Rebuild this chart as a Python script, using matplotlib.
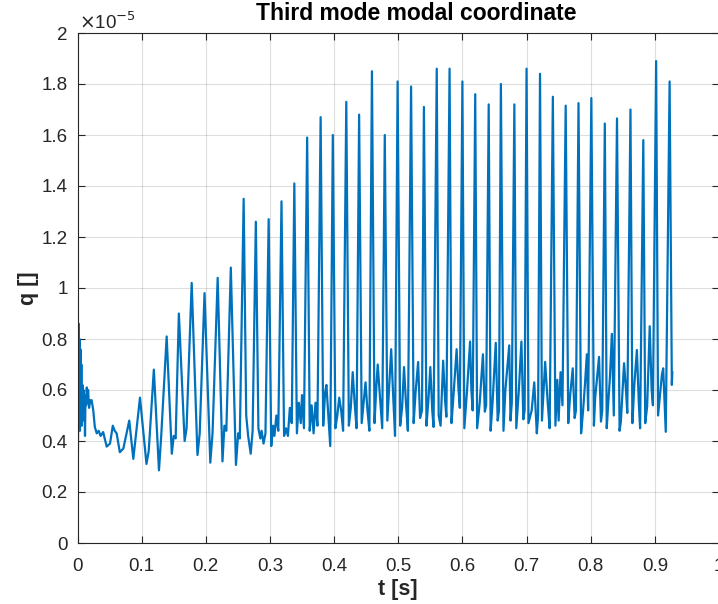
import matplotlib
matplotlib.use("Agg")
import matplotlib.pyplot as plt
import numpy as np
from matplotlib.ticker import FuncFormatter

plt.rcParams['font.family'] = ['Liberation Sans', 'DejaVu Sans']

# modal coordinate q, in units of 1e-5
q_scale_exp = -5

# start-up transient
t_transient = [0.0, 0.0004, 0.0012, 0.0018, 0.0025, 0.0032, 0.0038, 0.0045, 0.0052,
               0.0060, 0.0068, 0.0076, 0.0084, 0.0092, 0.0100, 0.0108, 0.0117, 0.0125,
               0.0135, 0.0145, 0.0155, 0.0165, 0.0180, 0.0200, 0.0220, 0.0246, 0.0270,
               0.0300, 0.0330, 0.0360, 0.0400, 0.0455, 0.0507, 0.0550, 0.0580, 0.0610,
               0.0660, 0.0714, 0.0807, 0.0870]
q_transient = [0.0, 0.26, 0.55, 0.86, 0.47, 0.80, 0.44, 0.76, 0.50,
               0.70, 0.46, 0.62, 0.48, 0.60, 0.50, 0.58, 0.42, 0.58,
               0.54, 0.61, 0.55, 0.60, 0.53, 0.56, 0.56, 0.52, 0.455,
               0.43, 0.44, 0.42, 0.435, 0.378, 0.39, 0.46, 0.44, 0.43,
               0.356, 0.37, 0.48, 0.33]

# growing oscillation
t_growth = [0.0974, 0.1075, 0.1110, 0.1190, 0.1270, 0.1305, 0.1390, 0.1470, 0.1500,
            0.1530, 0.1580, 0.1670, 0.1700, 0.1780, 0.1870, 0.1905, 0.1980, 0.2070,
            0.2105, 0.2185, 0.2260, 0.2290, 0.2320, 0.2390, 0.2470, 0.2505, 0.2530]
q_growth = [0.57, 0.31, 0.36, 0.68, 0.285, 0.42, 0.81, 0.35, 0.42,
            0.41, 0.90, 0.40, 0.45, 1.02, 0.345, 0.43, 0.98, 0.315,
            0.43, 1.04, 0.32, 0.46, 0.44, 1.08, 0.306, 0.43, 0.41]

# spikes building up to the limit cycle
t_rise = [0.259, 0.263, 0.266, 0.270, 0.273,
          0.278, 0.282, 0.285, 0.287, 0.290, 0.293,
          0.298, 0.302, 0.305, 0.307, 0.310, 0.313,
          0.318, 0.322, 0.325, 0.328, 0.331, 0.334,
          0.338, 0.342, 0.345, 0.348, 0.350, 0.353,
          0.358, 0.362, 0.365, 0.368, 0.371, 0.374,
          0.379, 0.383, 0.386, 0.388, 0.391, 0.394,
          0.398, 0.402, 0.405, 0.408, 0.411, 0.414,
          0.419, 0.423, 0.426, 0.429, 0.432, 0.435,
          0.439, 0.443, 0.446, 0.449, 0.452, 0.455,
          0.459, 0.463, 0.466, 0.468, 0.471, 0.475,
          0.479, 0.483, 0.486, 0.489, 0.492, 0.495]
q_rise = [1.35, 0.50, 0.42, 0.35, 0.44,
          1.26, 0.45, 0.41, 0.44, 0.39, 0.43,
          1.27, 0.38, 0.46, 0.42, 0.50, 0.44,
          1.34, 0.42, 0.45, 0.42, 0.53, 0.47,
          1.41, 0.43, 0.55, 0.47, 0.58, 0.45,
          1.59, 0.44, 0.54, 0.43, 0.55, 0.46,
          1.67, 0.46, 0.59, 0.62, 0.50, 0.38,
          1.60, 0.45, 0.50, 0.57, 0.52, 0.44,
          1.73, 0.46, 0.53, 0.67, 0.55, 0.45,
          1.68, 0.47, 0.55, 0.63, 0.52, 0.44,
          1.85, 0.47, 0.62, 0.70, 0.59, 0.45,
          1.60, 0.48, 0.62, 0.76, 0.58, 0.42]

# saturated limit cycle
t_sat = [0.499, 0.503, 0.506, 0.509, 0.512, 0.515,
         0.520, 0.524, 0.527, 0.531, 0.534, 0.537,
         0.540, 0.544, 0.547, 0.550, 0.553, 0.555,
         0.560, 0.563, 0.566, 0.570, 0.573, 0.575,
         0.580, 0.583, 0.586, 0.591, 0.594, 0.596,
         0.600, 0.603, 0.607, 0.612, 0.614, 0.616,
         0.620, 0.623, 0.627, 0.632, 0.635, 0.637,
         0.641, 0.644, 0.647, 0.652, 0.655, 0.657,
         0.660, 0.664, 0.667, 0.673, 0.675, 0.677,
         0.681, 0.684, 0.688, 0.692, 0.695, 0.697,
         0.700, 0.703, 0.708, 0.712, 0.716, 0.718,
         0.721, 0.724, 0.727, 0.729, 0.733, 0.736,
         0.741, 0.745, 0.748, 0.750, 0.753, 0.756,
         0.761, 0.765, 0.768, 0.772, 0.775, 0.777,
         0.781, 0.785, 0.788, 0.791, 0.794, 0.796,
         0.801, 0.805, 0.807, 0.813, 0.816, 0.818,
         0.822, 0.825, 0.827, 0.830, 0.833, 0.836,
         0.841, 0.845, 0.847, 0.852, 0.855, 0.857,
         0.862, 0.865, 0.868, 0.872, 0.875, 0.877,
         0.882, 0.885, 0.888, 0.892, 0.895, 0.897,
         0.902, 0.905, 0.908, 0.911, 0.913, 0.917,
         0.923, 0.9265, 0.9272]
q_sat = [1.81, 0.46, 0.53, 0.69, 0.55, 0.44,
         1.79, 0.47, 0.59, 0.71, 0.49, 0.52,
         1.71, 0.46, 0.56, 0.69, 0.52, 0.455,
         1.86, 0.50, 0.46, 0.715, 0.56, 0.495,
         1.86, 0.47, 0.575, 0.76, 0.60, 0.53,
         1.81, 0.45, 0.59, 0.79, 0.60, 0.52,
         1.76, 0.45, 0.55, 0.74, 0.515, 0.54,
         1.72, 0.44, 0.55, 0.785, 0.48, 0.52,
         1.80, 0.44, 0.60, 0.775, 0.48, 0.55,
         1.72, 0.45, 0.60, 0.79, 0.485, 0.52,
         1.86, 0.47, 0.52, 0.63, 0.43, 0.50,
         1.84, 0.48, 0.62, 0.71, 0.55, 0.45,
         1.75, 0.46, 0.64, 0.48, 0.67, 0.54,
         1.715, 0.47, 0.58, 0.685, 0.49, 0.52,
         1.725, 0.43, 0.515, 0.62, 0.74, 0.52,
         1.745, 0.46, 0.57, 0.73, 0.476, 0.52,
         1.645, 0.45, 0.535, 0.65, 0.82, 0.50,
         1.665, 0.44, 0.476, 0.705, 0.60, 0.51,
         1.70, 0.47, 0.62, 0.757, 0.55, 0.45,
         1.58, 0.47, 0.535, 0.85, 0.60, 0.54,
         1.89, 0.50, 0.58, 0.66, 0.685, 0.436,
         1.81, 0.62, 0.67]

t = np.concatenate([t_transient, t_growth, t_rise, t_sat])
q = np.concatenate([q_transient, q_growth, q_rise, q_sat])

x_ticks = [0, 0.1, 0.2, 0.3, 0.4, 0.5, 0.6, 0.7, 0.8, 0.9, 1.0]
y_ticks = [0, 0.2, 0.4, 0.6, 0.8, 1.0, 1.2, 1.4, 1.6, 1.8, 2.0]

dark = '#262626'

fig = plt.figure(figsize=(7.18, 6.04), dpi=100)
ax = fig.add_axes([77.5 / 718, 61 / 604, 641.5 / 718, 510 / 604])

ax.plot(t, q, color='#0072BD', lw=1.6, solid_joinstyle='round')

ax.set_xlim(0, 1)
ax.set_ylim(0, 2)
ax.set_xticks(x_ticks)
ax.set_yticks(y_ticks)
fmt = FuncFormatter(lambda v, _: f"{v:g}")
ax.xaxis.set_major_formatter(fmt)
ax.yaxis.set_major_formatter(fmt)

ax.grid(True, color=dark, alpha=0.15, lw=0.8)
ax.set_axisbelow(True)
ax.tick_params(direction='in', top=True, right=True, length=5, width=0.8,
               colors=dark, labelsize=13.5)
ax.tick_params(axis='x', pad=11)
ax.tick_params(axis='y', pad=7)
for s in ax.spines.values():
    s.set_color(dark)
    s.set_linewidth(0.8)

fig.text(416.5 / 718, 1 - 13 / 604, 'Third mode modal coordinate', fontsize=16.5,
         fontweight='bold', color='black', ha='center', va='center')
ax.set_xlabel('t [s]', fontsize=15.5, fontweight='bold', color=dark, labelpad=3)
ax.set_ylabel('q []', fontsize=15.5, fontweight='bold', color=dark, labelpad=2)

ax.text(0.003, 1.0, r'$\times$10$^{%d}$' % q_scale_exp, transform=ax.transAxes,
        fontsize=13.5, color=dark, ha='left', va='bottom')

fig.savefig('out.png', dpi=100)
